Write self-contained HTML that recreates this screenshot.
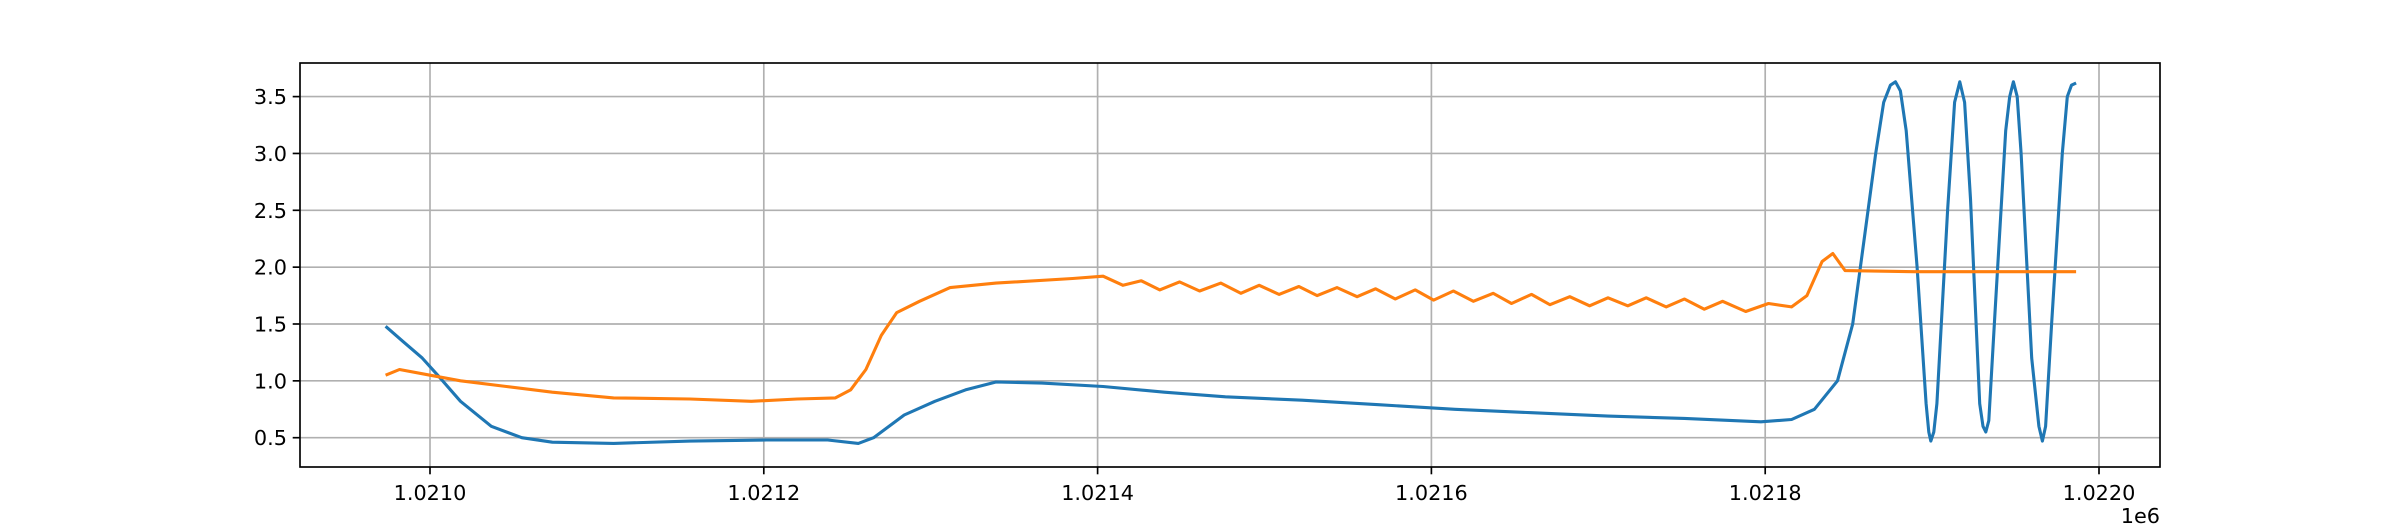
<!DOCTYPE html>
<html><head><meta charset="utf-8"><style>
html,body{margin:0;padding:0;background:#fff;}
svg text{font-family:"DejaVu Sans","Liberation Sans",sans-serif;font-size:20.8px;fill:#000;}
</style></head><body>
<svg width="2400" height="525" viewBox="0 0 2400 525">
<g id="grid"></g>
<g id="series"></g>
<g id="axes"></g>
</svg>
<script>
const xBase = 1021000;
const xTicks = [1021000, 1021200, 1021400, 1021600, 1021800, 1022000];
const xTickLabels = ["1.0210","1.0212","1.0214","1.0216","1.0218","1.0220"];
const yTicks = [0.5,1.0,1.5,2.0,2.5,3.0,3.5];
const yTickLabels = ["0.5","1.0","1.5","2.0","2.5","3.0","3.5"];
const blueX = [-26.6,-16.5,-4.6,4.6,18.3,36.7,55,73.3,110,155.8,201.7,238.3,256.6,265.8,284.1,302.5,320.8,339.1,366.6,403.3,440,476.6,522.5,568.3,614.1,660,705.8,751.6,797.4,815.8,829.5,843.3,852.4,859.8,866.2,871,875,878.1,881,884.5,891,896.4,898,899.2,901,902.9,909.3,913.5,916.6,919.5,923,928.5,930.5,932.2,934,937.7,944.1,946.5,948.7,951,953.3,959.7,964,966.1,968,971.6,978,981,983.5,986.3];
const blueY = [1.48,1.35,1.2,1.05,0.82,0.6,0.5,0.46,0.45,0.47,0.48,0.48,0.45,0.5,0.7,0.82,0.92,0.99,0.98,0.95,0.9,0.86,0.83,0.79,0.75,0.72,0.69,0.67,0.64,0.66,0.75,1.0,1.5,2.3,3.0,3.45,3.6,3.63,3.55,3.2,2.0,0.8,0.55,0.47,0.55,0.8,2.5,3.45,3.63,3.45,2.6,0.8,0.6,0.55,0.65,1.6,3.2,3.5,3.63,3.5,3.0,1.2,0.6,0.47,0.6,1.5,3.0,3.5,3.6,3.62];
const orangeX = [-26.6,-18.3,0,18.3,45.8,73.3,110,155.8,192.5,220,242.9,252,261.2,270.4,279.6,293.3,311.6,339.1,385,403.3,415.2,426.2,437.2,449.1,461.1,473.9,485.8,496.8,508.7,520.6,531.6,543.5,555.5,566.5,578.4,590.3,601.3,613.2,625.1,637.0,648.0,660.0,671.0,682.9,694.8,705.8,717.7,728.7,740.6,751.6,763.5,774.5,788.3,802.0,815.8,825,834.1,840.5,847.9,889.1,986.3];
const orangeY = [1.05,1.1,1.05,1.0,0.95,0.9,0.85,0.84,0.82,0.84,0.85,0.92,1.1,1.4,1.6,1.7,1.82,1.86,1.9,1.92,1.84,1.88,1.80,1.87,1.79,1.86,1.77,1.84,1.76,1.83,1.75,1.82,1.74,1.81,1.72,1.80,1.71,1.79,1.70,1.77,1.68,1.76,1.67,1.74,1.66,1.73,1.66,1.73,1.65,1.72,1.63,1.70,1.61,1.68,1.65,1.75,2.05,2.12,1.97,1.96,1.96];

const L=300,R=2160,T=63,B=467;
const X0=430, PXU=1.669;
function sx(v){return X0+(v-1021000)*PXU;}
function sy(v){return 437.7-(v-0.5)*113.7;}
const NS="http://www.w3.org/2000/svg";
function mk(tag,attrs,parent){const e=document.createElementNS(NS,tag);for(const k in attrs)e.setAttribute(k,attrs[k]);parent.appendChild(e);return e;}
const grid=document.getElementById('grid'),axes=document.getElementById('axes'),series=document.getElementById('series');
xTicks.forEach((t,i)=>{
  const x=sx(t);
  const g=mk('line',{x1:x,x2:x,y1:T,y2:B,stroke:'#b0b0b0','stroke-width':1.67},grid);
  
  
  const tk=mk('line',{x1:x,x2:x,y1:B,y2:B+7.3,stroke:'#000','stroke-width':1.67},axes);
  
  
  const tx=mk('text',{x:x,y:B+33,'text-anchor':'middle'},axes);
  tx.textContent=xTickLabels[i];
  
  
});
yTicks.forEach((t,i)=>{
  const y=sy(t);
  const g=mk('line',{x1:L,x2:R,y1:y,y2:y,stroke:'#b0b0b0','stroke-width':1.67},grid);
  
  
  const tk=mk('line',{x1:L-7.3,x2:L,y1:y,y2:y,stroke:'#000','stroke-width':1.67},axes);
  
  
  const tx=mk('text',{x:L-13,y:y+7.5,'text-anchor':'end'},axes);
  tx.textContent=yTickLabels[i];
  
  
});
function line(xs,ys,color,name){
  const pts=xs.map((x,i)=>sx(xBase+x).toFixed(1)+','+sy(ys[i]).toFixed(1)).join(' ');
  const p=mk('polyline',{points:pts,fill:'none',stroke:color,'stroke-width':3.1,'stroke-linejoin':'round'},series);
  
  
}
line(blueX,blueY,'#1f77b4','blue-series');
line(orangeX,orangeY,'#ff7f0e','orange-series');
const fr=mk('rect',{x:L,y:T,width:R-L,height:B-T,fill:'none',stroke:'#000','stroke-width':1.67},axes);


const off=mk('text',{x:R,y:523,'text-anchor':'end'},axes);
off.textContent='1e6';


</script>
</body></html>
